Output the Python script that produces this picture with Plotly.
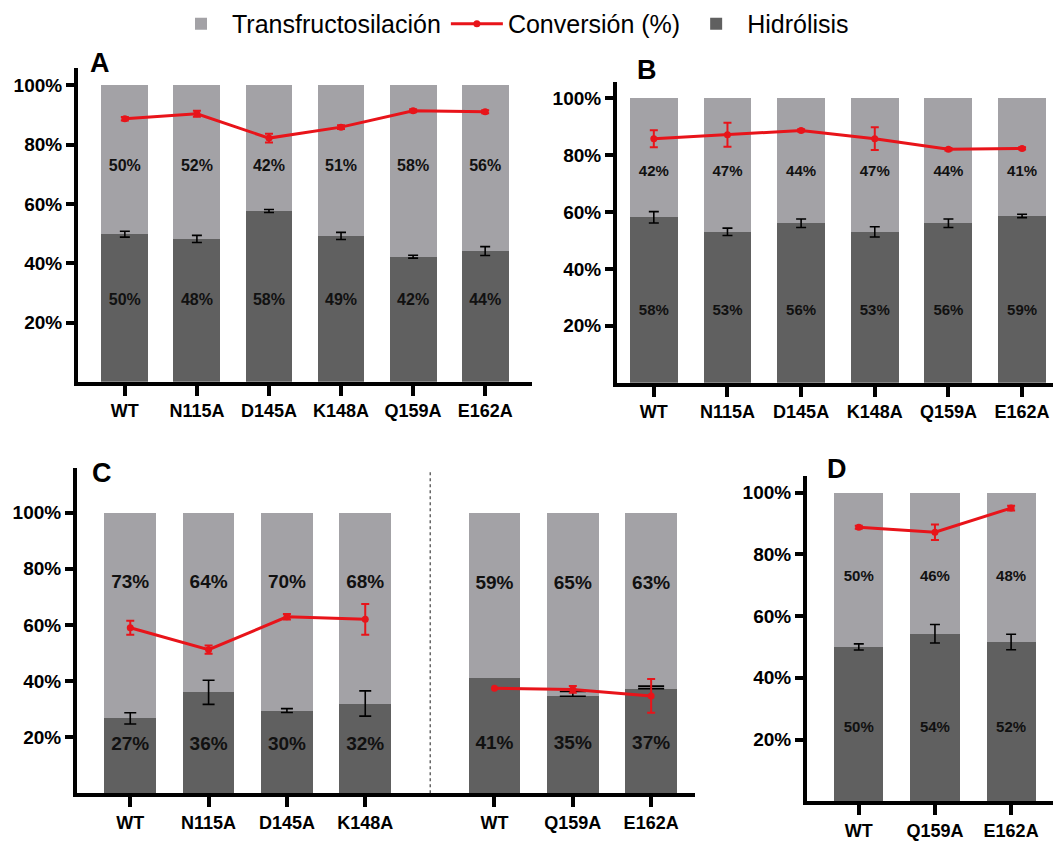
import plotly.graph_objects as go

W, H = 1053, 841

# ---------------- data ----------------
cats_AB = ["WT", "N115A", "D145A", "K148A", "Q159A", "E162A"]

A_hidro = [49.8, 48.2, 57.6, 49.2, 42.2, 44.1]
A_hidro_err = [1.0, 1.2, 0.5, 1.2, 0.5, 1.5]
A_conv = [88.7, 90.4, 82.2, 85.9, 91.4, 91.1]
A_conv_err = [0.6, 1.0, 1.5, 0.6, 0.5, 0.5]
A_lab_trans = ["50%", "52%", "42%", "51%", "58%", "56%"]
A_lab_hidro = ["50%", "48%", "58%", "49%", "42%", "44%"]

B_hidro = [58.1, 53.0, 56.0, 53.0, 56.0, 58.6]
B_hidro_err = [2.0, 1.3, 1.5, 1.8, 1.5, 0.6]
B_conv = [85.7, 87.1, 88.6, 85.7, 82.0, 82.3]
B_conv_err = [3.0, 4.2, 0.4, 4.0, 0.4, 0.4]
B_lab_trans = ["42%", "47%", "44%", "47%", "44%", "41%"]
B_lab_hidro = ["58%", "53%", "56%", "53%", "56%", "59%"]

C1_cats = ["WT", "N115A", "D145A", "K148A"]
C1_hidro = [26.7, 36.0, 29.5, 32.0]
C1_hidro_err = [2.0, 4.3, 0.7, 4.5]
C1_conv = [59.0, 51.2, 62.9, 62.0]
C1_conv_err = [2.5, 1.5, 1.0, 5.5]
C1_lab_trans = ["73%", "64%", "70%", "68%"]
C1_lab_hidro = ["27%", "36%", "30%", "32%"]

C2_cats = ["WT", "Q159A", "E162A"]
C2_hidro = [41.0, 34.6, 37.3]
C2_hidro_err_up = [0.0, 1.7, 0.9]
C2_conv = [37.4, 37.0, 34.7]
C2_conv_err = [0.0, 1.2, 6.0]
C2_lab_trans = ["59%", "65%", "63%"]
C2_lab_hidro = ["41%", "35%", "37%"]

D_cats = ["WT", "Q159A", "E162A"]
D_hidro = [50.0, 54.3, 51.6]
D_hidro_err = [1.0, 3.0, 2.5]
D_conv = [88.8, 87.2, 95.0]
D_conv_err = [0.5, 2.5, 0.8]
D_lab_trans = ["50%", "46%", "48%"]
D_lab_hidro = ["50%", "54%", "52%"]

y_ticks = [20, 40, 60, 80, 100]
y_ticktext = ["20%", "40%", "60%", "80%", "100%"]

# ---------------- style ----------------
LIGHT = "#a3a2a6"
DARK = "#606060"
RED = "#e8141a"
FONT = "Liberation Sans, Arial, sans-serif"

fig = go.Figure()


def px_x(p):
    return p / W


def px_y(p):
    return 1 - p / H


def add_panel(xa, ya, xs, hidro, hidro_err, conv, conv_err, lab_t, lab_h,
              ylab_t, ylab_h, labsize, bw, legend=False,
              hidro_err_minus=None, capw=5):
    xref = "x" if xa == 1 else f"x{xa}"
    yref = "y" if ya == 1 else f"y{ya}"
    trans = [100 - h for h in hidro]
    fig.add_trace(go.Bar(x=xs, y=hidro, width=bw, marker=dict(color=DARK, line=dict(width=0)),
                         name="Hidrólisis", legendrank=3, showlegend=legend,
                         xaxis=xref, yaxis=yref, hoverinfo="skip"))
    fig.add_trace(go.Bar(x=xs, y=trans, width=bw, marker=dict(color=LIGHT, line=dict(width=0)),
                         name="Transfructosilación", legendrank=1, showlegend=legend,
                         xaxis=xref, yaxis=yref, hoverinfo="skip"))
    # hydrolysis error bars (only where an error is shown)
    idx = [i for i, e in enumerate(hidro_err) if e > 0]
    err = dict(type="data", array=[hidro_err[i] for i in idx], color="black",
               thickness=1.6, width=capw, visible=True)
    if hidro_err_minus is not None:
        err["symmetric"] = False
        err["arrayminus"] = [hidro_err_minus[i] for i in idx]
    fig.add_trace(go.Scatter(x=[xs[i] for i in idx], y=[hidro[i] for i in idx], mode="markers",
                             marker=dict(size=1, opacity=0), error_y=err, showlegend=False,
                             xaxis=xref, yaxis=yref, hoverinfo="skip"))
    # conversion line
    fig.add_trace(go.Scatter(x=xs, y=conv, mode="lines+markers",
                             line=dict(color=RED, width=3), marker=dict(color=RED, size=7),
                             name="Conversión (%)", legendrank=2, showlegend=legend,
                             xaxis=xref, yaxis=yref, hoverinfo="skip"))
    idc = [i for i, e in enumerate(conv_err) if e > 0]
    fig.add_trace(go.Scatter(x=[xs[i] for i in idc], y=[conv[i] for i in idc], mode="markers",
                             marker=dict(size=1, opacity=0),
                             error_y=dict(type="data", array=[conv_err[i] for i in idc],
                                          color=RED, thickness=2, width=4),
                             showlegend=False, xaxis=xref, yaxis=yref, hoverinfo="skip"))
    tf = dict(size=labsize, color="#111111", family=FONT, weight="bold")
    fig.add_trace(go.Scatter(x=xs, y=[ylab_t] * len(xs), mode="text", text=lab_t, textfont=tf,
                             showlegend=False, xaxis=xref, yaxis=yref, hoverinfo="skip"))
    fig.add_trace(go.Scatter(x=xs, y=[ylab_h] * len(xs), mode="text", text=lab_h, textfont=tf,
                             showlegend=False, xaxis=xref, yaxis=yref, hoverinfo="skip"))


# Panel A
xA = list(range(len(cats_AB)))
add_panel(1, 1, xA, A_hidro, A_hidro_err, A_conv, A_conv_err, A_lab_trans, A_lab_hidro,
          72.6, 27.4, 16, 0.65, legend=True)
# Panel B
add_panel(2, 2, xA, B_hidro, B_hidro_err, B_conv, B_conv_err, B_lab_trans, B_lab_hidro,
          74, 25, 15, 0.65)
# Panel C
xC1 = [0, 1, 2, 3]
xC2 = [4.65, 5.65, 6.65]
add_panel(3, 3, xC1, C1_hidro, C1_hidro_err, C1_conv, C1_conv_err, C1_lab_trans, C1_lab_hidro,
          75, 17, 19, 0.66, capw=6)
add_panel(3, 3, xC2, C2_hidro, C2_hidro_err_up, C2_conv, C2_conv_err, C2_lab_trans, C2_lab_hidro,
          74.5, 17.5, 19, 0.66, hidro_err_minus=[0, 0, 0], capw=13)
# Panel D
xD = [0, 1, 2]
add_panel(4, 4, xD, D_hidro, D_hidro_err, D_conv, D_conv_err, D_lab_trans, D_lab_hidro,
          72.7, 23.8, 15, 0.645)

axis_common = dict(showline=True, linewidth=4, linecolor="black", ticks="outside",
                   tickwidth=4, tickcolor="black", showgrid=False, zeroline=False,
                   fixedrange=True)
xtickfont = dict(family=FONT, size=18, color="black", weight="bold")
ytickfont = dict(family=FONT, size=19, color="black", weight="bold")


def xaxis(domain, rng, tickvals, ticktext, anchor):
    return dict(domain=domain, range=rng, tickvals=tickvals, ticktext=ticktext,
                ticklen=10, tickfont=xtickfont, anchor=anchor, **axis_common)


def yaxis(domain, rng, anchor):
    return dict(domain=domain, range=rng, tickvals=y_ticks, ticktext=y_ticktext,
                ticklen=8, tickfont=ytickfont, anchor=anchor, **axis_common)


def letter(t, left, top):
    return dict(text=f"<b>{t}</b>", x=px_x(left), y=px_y(top), xref="paper", yref="paper",
                xanchor="left", yanchor="top", showarrow=False, borderpad=0,
                font=dict(size=27, family=FONT, color="black"))


fig.update_layout(
    width=W, height=H,
    margin=dict(l=0, r=0, t=0, b=0),
    paper_bgcolor="white", plot_bgcolor="white",
    barmode="stack", bargap=0.35,
    font=dict(family=FONT, color="black"),
    xaxis=xaxis([px_x(78), px_x(532)], [-0.65, 5.65], xA, cats_AB, "y"),
    yaxis=yaxis([px_y(385), px_y(69)], [0, 105.7], "x"),
    xaxis2=xaxis([px_x(617), 1.0], [-0.5, 5.42], xA, cats_AB, "y2"),
    yaxis2=yaxis([px_y(386), px_y(83)], [0, 105.5], "x2"),
    xaxis3=xaxis([px_x(77), px_x(695)], [-0.68, 7.21], xC1 + xC2, C1_cats + C2_cats, "y3"),
    yaxis3=yaxis([px_y(800), px_y(471.7)], [0, 116], "x3"),
    xaxis4=xaxis([px_x(807), 1.0], [-0.68, 2.55], xD, D_cats, "y4"),
    yaxis4=yaxis([px_y(808), px_y(480)], [0, 105.4], "x4"),
    legend=dict(orientation="h", x=px_x(170), y=px_y(1), xanchor="left", yanchor="top",
                font=dict(family=FONT, size=25, color="black"), bgcolor="rgba(0,0,0,0)",
                itemwidth=52, traceorder="normal", tracegroupgap=0),
    shapes=[dict(type="line", xref="x3", yref="y3", x0=3.83, x1=3.83, y0=0, y1=115,
                 line=dict(color="#666666", width=1.5, dash="dot"))],
    annotations=[
        letter("A", 89, 47),
        letter("B", 636, 54),
        letter("C", 91, 461),
        letter("D", 826, 457),
    ],
)

fig.write_html("out.html", config={"displayModeBar": False},
               post_script="document.body.style.margin='0';document.body.style.overflow='hidden';")
